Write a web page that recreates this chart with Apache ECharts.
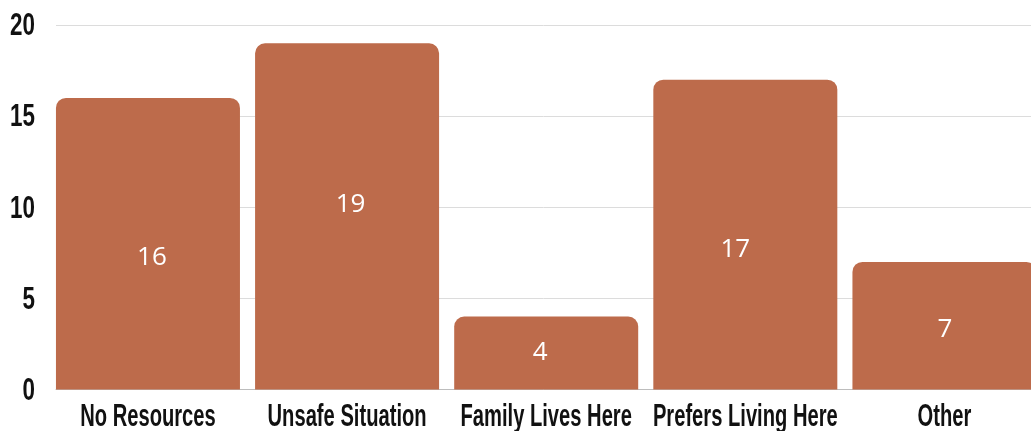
<!DOCTYPE html>
<html>
<head>
<meta charset="utf-8">
<script src="https://cdn.jsdelivr.net/npm/echarts@6/dist/echarts.min.js"></script>
<style>
  html, body { margin: 0; padding: 0; background: #fff; overflow: hidden; }
  /* the last bar runs off the right edge, so the canvas is a bit wider than the page */
  #chart { width: 1045px; height: 431px; }
</style>
</head>
<body>
<div id="chart"></div>
<script>
// Reasons given (counts)
const categories = ['No Resources', 'Unsafe Situation', 'Family Lives Here', 'Prefers Living Here', 'Other'];
const counts = [16, 19, 4, 17, 7];
const yTicks = [0, 5, 10, 15, 20];

// small nudges [dx, dy] for the in-bar value labels
const labelShift = [[4, 14], [3.5, -12], [-6, 0], [-10, 15], [0.5, 4]];

const BAR = '#BD6B4B';
const INK = '#111111';
const LABEL_FONT = 'bold 32px "Liberation Sans", Arial, sans-serif';

const chart = echarts.init(document.getElementById('chart'), null, { renderer: 'canvas' });

// Narrow, tall label text: a bold face squeezed horizontally.
function squeezedText(x, y, text, align, sx) {
  return {
    type: 'text',
    x: x,
    y: y,
    scaleX: sx,
    style: {
      text: text,
      font: LABEL_FONT,
      fill: INK,
      align: align,
      verticalAlign: 'middle'
    }
  };
}

chart.setOption({
  animation: false,
  backgroundColor: '#ffffff',
  grid: [
    // bars and category labels
    { left: 48.4, right: 1, top: 25, bottom: 41.5, containLabel: false },
    // value scale, gridlines and baseline
    { left: 56, right: 14, top: 25, bottom: 41.5, containLabel: false }
  ],
  xAxis: [
    {
      type: 'category',
      gridIndex: 0,
      data: categories,
      axisLine: { show: false },
      axisTick: { show: false },
      axisLabel: { show: false }
    },
    {
      type: 'value',
      gridIndex: 1,
      min: 0, max: 1,
      axisLine: { show: true, lineStyle: { color: '#bdbdbd', width: 1 } },
      axisTick: { show: false },
      axisLabel: { show: false },
      splitLine: { show: false }
    }
  ],
  yAxis: [
    {
      type: 'value',
      gridIndex: 0,
      min: yTicks[0], max: yTicks[yTicks.length - 1], interval: 5,
      show: false
    },
    {
      type: 'value',
      gridIndex: 1,
      min: yTicks[0], max: yTicks[yTicks.length - 1], interval: 5,
      axisLine: { show: false },
      axisTick: { show: false },
      axisLabel: { show: false },
      splitLine: { show: true, lineStyle: { color: '#dcdcdc', width: 1 } }
    }
  ],
  series: [
    {
      type: 'bar',
      xAxisIndex: 0,
      yAxisIndex: 0,
      barWidth: 184,
      data: counts.map((v, i) => ({
        value: v,
        label: { offset: labelShift[i] }
      })),
      itemStyle: { color: BAR, borderRadius: [10, 10, 0, 0] },
      label: {
        show: true,
        position: 'inside',
        color: '#ffffff',
        fontFamily: '"Open Sans", "Noto Sans", sans-serif',
        fontSize: 26,
        fontWeight: 'normal'
      }
    },
    {
      // category labels under the bars
      type: 'custom',
      xAxisIndex: 0,
      yAxisIndex: 0,
      silent: true,
      clip: false,
      data: categories.map((c, i) => [i, 0]),
      renderItem: function (params, api) {
        const p = api.coord([api.value(0), 0]);
        return squeezedText(p[0], p[1] + 27.5, categories[params.dataIndex], 'center', 0.63);
      }
    },
    {
      // value-axis tick labels
      type: 'custom',
      xAxisIndex: 1,
      yAxisIndex: 1,
      silent: true,
      clip: false,
      data: yTicks.map(v => [0, v]),
      renderItem: function (params, api) {
        const p = api.coord([0, api.value(1)]);
        return squeezedText(p[0] - 21, p[1] + 1.5, String(yTicks[params.dataIndex]), 'right', 0.7);
      }
    }
  ]
});
</script>
</body>
</html>
